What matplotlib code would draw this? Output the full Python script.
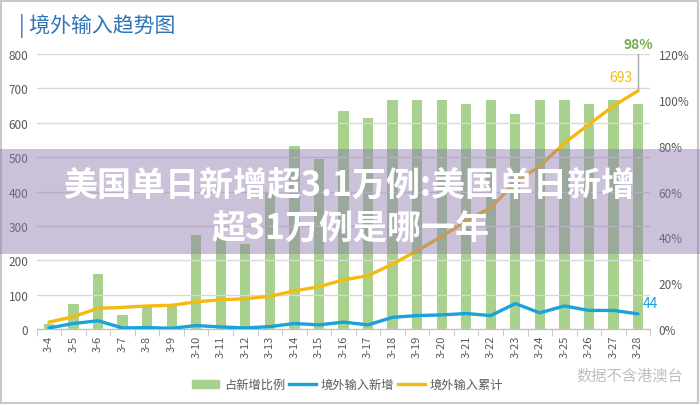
import numpy as np
import matplotlib
matplotlib.use("Agg")
import matplotlib.pyplot as plt
from matplotlib.patches import Rectangle
from matplotlib.lines import Line2D
from matplotlib.patches import Patch

plt.rcParams['font.family'] = ['Noto Sans CJK SC', 'DejaVu Sans']

# 数据
dates = ['3-4', '3-5', '3-6', '3-7', '3-8', '3-9', '3-10', '3-11', '3-12', '3-13',
         '3-14', '3-15', '3-16', '3-17', '3-18', '3-19', '3-20', '3-21', '3-22',
         '3-23', '3-24', '3-25', '3-26', '3-27', '3-28']
daily = [3, 16, 24, 3, 4, 2, 10, 6, 3, 7, 16, 12, 20, 12, 34, 39, 41, 45, 39,
         74, 47, 67, 54, 54, 44]
cumulative = [20, 36, 60, 63, 67, 69, 79, 85, 88, 95, 111, 123, 143, 155, 189,
              228, 269, 314, 353, 427, 474, 541, 595, 649, 693]
share = [2, 11, 24, 6, 10, 10, 41, 40, 37, 60, 80, 74, 95, 92, 100, 100, 100,
         98, 100, 94, 100, 100, 98, 100, 98]

green = '#A9D18E'
blue = '#1AA3DB'
yellow = '#F5BA12'
gray_txt = '#595959'

fig = plt.figure(figsize=(7, 4.06), dpi=100)
ax = fig.add_axes([0.0524, 0.1872, 0.8766, 0.6773])
ax2 = ax.twinx()
ax.set_zorder(ax2.get_zorder() + 1)
ax.patch.set_visible(False)

x = np.arange(len(dates))

# 柱状图: 占新增比例 (右轴)
ax2.bar(x, share, width=0.42, color=green, zorder=2)
ax2.set_ylim(0, 120)
ax2.set_yticks(np.arange(0, 121, 20))
ax2.set_yticklabels([f'{v}%' for v in range(0, 121, 20)])

# 折线: 新增和累计 (左轴)
ax.plot(x, daily, color=blue, lw=2.4, solid_capstyle='round', zorder=3)
ax.plot(x, cumulative, color=yellow, lw=2.4, solid_capstyle='round', zorder=3)
ax.plot([x[-1], x[-1]], [cumulative[-1], 800], color='#A6A6A6', lw=1, zorder=2)
ax.set_ylim(0, 800)
ax.set_xlim(-0.5, len(dates) - 0.5)
ax.set_yticks(np.arange(0, 801, 100))
ax.grid(axis='y', color='#D9D9D9', lw=1)
ax.set_axisbelow(True)

ax.set_xticks(x)
ax.set_xticklabels(dates, rotation=90, fontsize=8, color=gray_txt)
ax.set_xticks(np.arange(-0.5, len(dates), 1), minor=True)
ax.tick_params(axis='x', which='major', length=0, pad=4)
ax.tick_params(axis='x', which='minor', length=5, color='#BFBFBF')
ax.tick_params(axis='y', length=0, labelsize=8.5, labelcolor=gray_txt, pad=6)
ax2.tick_params(axis='y', length=0, labelsize=8.5, labelcolor=gray_txt, pad=6)

for a in (ax, ax2):
    for s in ('top', 'left', 'right'):
        a.spines[s].set_visible(False)
    a.spines['bottom'].set_color('#BFBFBF')

# 数据标签
ax.text(x[-1], 810, f'{share[-1]}%', color='#70AD47', fontsize=10,
        fontweight='bold', ha='center', va='bottom')
ax.text(x[-1] - 0.7, cumulative[-1] + 20, str(cumulative[-1]), color=yellow,
        fontsize=10, ha='center', va='bottom')
ax.text(x[-1] + 0.2, daily[-1] + 12, str(daily[-1]), color=blue,
        fontsize=10, ha='left', va='bottom')

# 标题
fig.text(0.027, 0.935, '| 境外输入趋势图', color='#2E75B6', fontsize=15,
         ha='left', va='center')
fig.text(0.9, 0.074, '数据不含港澳台', color='#BFBFBF', fontsize=11,
         ha='center', va='center')

# 图例
handles = [Patch(color=green, label='占新增比例'),
           Line2D([], [], color=blue, lw=2.4, label='境外输入新增'),
           Line2D([], [], color=yellow, lw=2.4, label='境外输入累计')]
fig.legend(handles=handles, loc='center', bbox_to_anchor=(0.497, 0.05), ncol=3,
           frameon=False, fontsize=8.8, labelcolor=gray_txt, handlelength=2.2,
           handletextpad=0.4, columnspacing=0.3)

# 外框
fig.add_artist(Rectangle((0.002, 0.004), 0.995, 0.992, transform=fig.transFigure,
                         fill=False, edgecolor='#C8C8C8', lw=1.5))

# 覆盖横幅
fig.add_artist(Rectangle((0, 0.372), 1, 0.259, transform=fig.transFigure,
                         facecolor='#8C78AF', alpha=0.45, edgecolor='none',
                         zorder=10))
fig.text(0.499, 0.543, '美国单日新增超3.1万例:美国单日新增', color='white',
         fontsize=24.5, fontweight='bold', ha='center', va='center', zorder=11)
fig.text(0.500, 0.436, '超31万例是哪一年', color='white',
         fontsize=24.5, fontweight='bold', ha='center', va='center', zorder=11)

fig.savefig('out.png', dpi=100)
